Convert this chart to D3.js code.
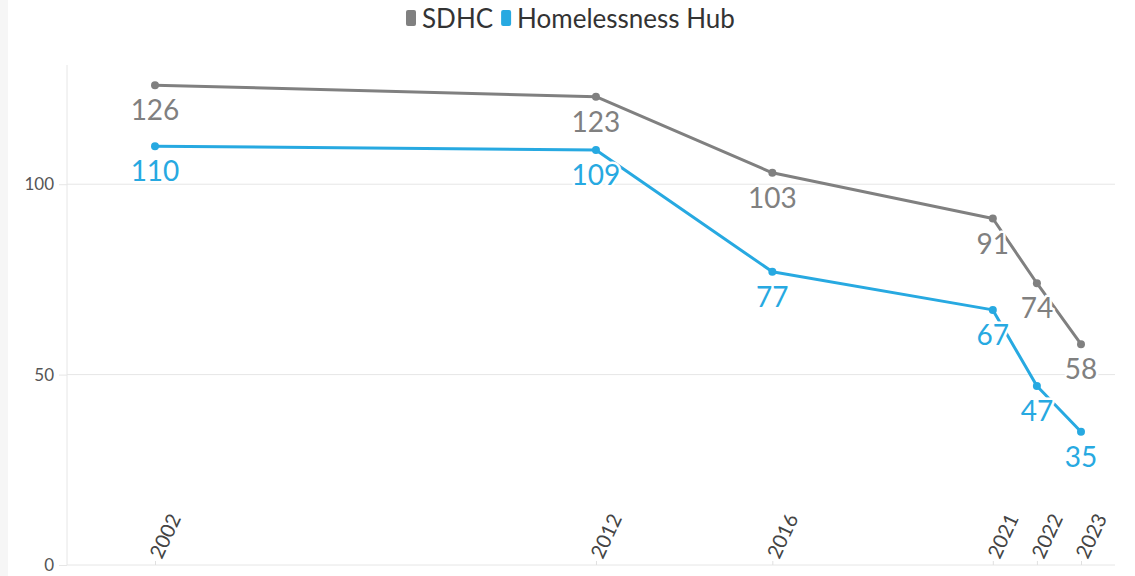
<!DOCTYPE html>
<html><head><meta charset="utf-8">
<script src="https://cdn.jsdelivr.net/npm/d3@7"></script>
<style>body{margin:0;background:#fff;font-family:"Source Sans Pro",Lato,"Open Sans",sans-serif;}</style>
</head><body><svg id="c" width="1135" height="576"></svg>
<script>
const years = [2002, 2012, 2016, 2021, 2022, 2023];
const sdhc = [126, 123, 103, 91, 74, 58];
const hub = [110, 109, 77, 67, 47, 35];
const seriesNames = ["SDHC", "Homelessness Hub"];
const seriesColors = ["#808080", "#27a9e1"];
const yTicks = [0, 50, 100];

const svg = d3.select("#c");
svg.append("rect").attr("x",0).attr("y",0).attr("width",8).attr("height",576).attr("fill","#f6f6f6");

const x = d3.scaleLinear().domain([2002, 2023]).range([155, 1081]);
const y = d3.scaleLinear().domain([0, 130]).range([565, 70]);
const left = 67, right = 1115;

// grid
svg.append("g").selectAll("line").data(yTicks).join("line")
  .attr("x1", left).attr("x2", right).attr("y1", d=>y(d)).attr("y2", d=>y(d))
  .attr("stroke", "#e6e6e6").attr("stroke-width", 1);
svg.append("line").attr("x1", left).attr("x2", left).attr("y1", 65).attr("y2", 565).attr("stroke","#e6e6e6");

// y axis
const ya = svg.append("g").attr("transform", `translate(${left},0)`)
  .call(d3.axisLeft(y).tickValues(yTicks).tickSize(8).tickPadding(5));
ya.select(".domain").remove();
ya.selectAll("line").attr("stroke","#e6e6e6");
ya.selectAll("text").attr("fill","#555").style("font-size","17px").style("font-family","Lato,sans-serif");

// x axis
const xa = svg.append("g").attr("transform", `translate(0,${y(0)})`)
  .call(d3.axisTop(x).tickValues(years).tickFormat(d3.format("d")).tickSize(4).tickPadding(3));
xa.select(".domain").remove();
xa.selectAll("line").attr("stroke","#e0e0e0");
xa.selectAll("text").attr("fill","#444").style("font-size","20px").style("font-family","Lato,sans-serif")
  .attr("text-anchor","start").attr("dy","0.35em")
  .attr("transform","translate(0,-8) rotate(-65)").attr("x",0).attr("y",0);

const series = [sdhc, hub];
const line = d3.line().x((d,i)=>x(years[i])).y(d=>y(d));
series.forEach((vals, si) => {
  const g = svg.append("g");
  g.append("path").datum(vals).attr("d", line).attr("fill","none")
    .attr("stroke", seriesColors[si]).attr("stroke-width", 3).attr("stroke-linejoin","round");
  g.selectAll("circle").data(vals).join("circle")
    .attr("cx",(d,i)=>x(years[i])).attr("cy", d=>y(d)).attr("r",4).attr("fill", seriesColors[si]);
});
series.forEach((vals, si) => {
  svg.append("g").selectAll("text").data(vals).join("text")
    .attr("x",(d,i)=>x(years[i])).attr("y", d=>y(d)+35)
    .attr("text-anchor","middle").attr("fill", seriesColors[si])
    .attr("stroke","#fff").attr("stroke-width",5).attr("paint-order","stroke").attr("stroke-linejoin","round")
    .style("font-size","28px").style("font-family","Lato,sans-serif")
    .text(d=>d);
});

// legend
const lg = svg.append("g");
let lx = 406;
seriesNames.forEach((n, i) => {
  lg.append("rect").attr("x", lx).attr("y", 10).attr("width", 10).attr("height", 16).attr("rx",2).attr("fill", seriesColors[i]);
  const t = lg.append("text").attr("x", lx+16).attr("y", 28).attr("fill","#333")
    .style("font-size","26px").style("font-family","Lato,sans-serif").text(n);
  lx += 16 + t.node().getComputedTextLength() + 8;
});
</script></body></html>
